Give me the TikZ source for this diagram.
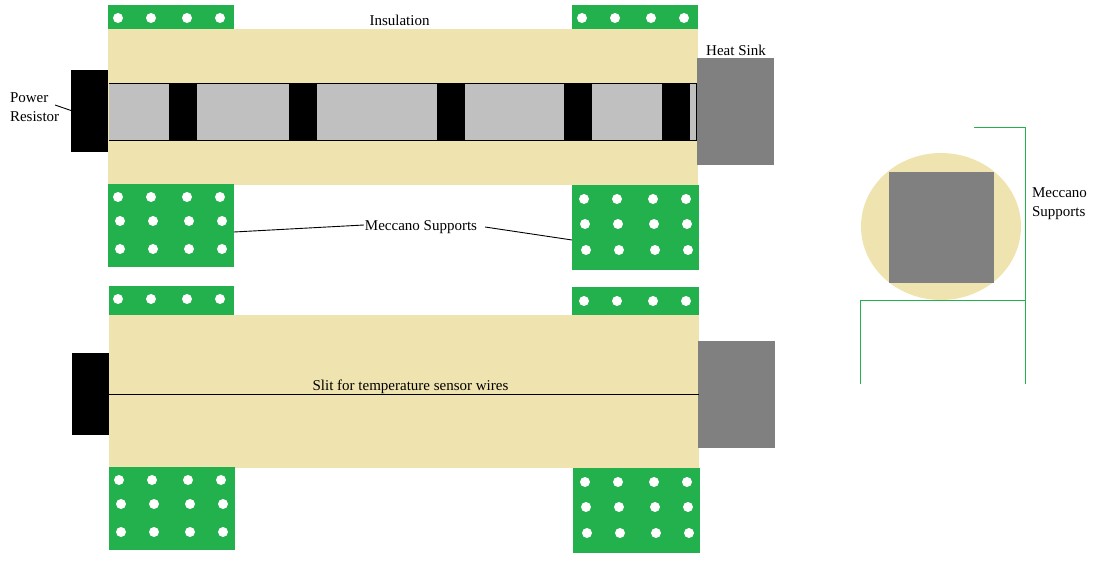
\documentclass[tikz,border=0pt]{standalone}
\usepackage{fontspec}
\setmainfont{Liberation Serif}
\usetikzlibrary{shapes.geometric}
\definecolor{mgreen}{HTML}{22B14C}
\definecolor{mtan}{HTML}{EFE4B0}
\definecolor{mgrey}{HTML}{808080}
\definecolor{mlight}{HTML}{C0C0C0}
\newcommand{\holerow}[2]{\foreach \hx in {#2} \fill[white] (\hx,#1) circle[radius=5];}
\tikzset{
  block/.style={rectangle,inner sep=0pt,outer sep=0pt,anchor=north west},
  plate/.style={block,fill=mgreen},
  insul/.style={block,fill=mtan},
  sink/.style={block,fill=mgrey},
  resistor/.style={block,fill=black},
  label/.style={inner sep=0pt,outer sep=0pt,font=\fontsize{15}{19}\selectfont,align=left},
  leader/.style={black,line width=0.9pt},
  support/.style={mgreen,line width=1.2pt},
}
\begin{document}
\begin{tikzpicture}[x=1pt,y=-1pt]
\useasboundingbox (0,0) rectangle (1096,561);
% upper view
\node[insul,minimum width=590pt,minimum height=156pt] (insA) at (108,29) {};
\node[plate,minimum width=126pt,minimum height=24pt] (pA1) at (108,5) {};
\node[plate,minimum width=126pt,minimum height=24pt] (pA2) at (572,5) {};
\node[plate,minimum width=126pt,minimum height=83pt] (pA3) at (108,184) {};
\node[plate,minimum width=127pt,minimum height=85pt] (pA4) at (572,185) {};
\node[resistor,minimum width=37pt,minimum height=82pt] (resA) at (71,70) {};
\node[sink,minimum width=77pt,minimum height=107pt] (sinkA) at (697,58) {};
\node[block,fill=mlight,minimum width=587.5pt,minimum height=57pt] (core) at (109,83.5) {};
\foreach \bx in {169,289,437,564,662}
  \fill[black] (\bx,83.5) rectangle (\bx+28,140.5);
\draw[black,line width=1pt] (109,83.5) -- (696.5,83.5) -- (696.5,140.5) -- (109,140.5);
\holerow{18}{118,151,187,220}
\holerow{18}{582,615,651,684}
\holerow{197}{118,151,187,220}
\holerow{221}{120,153,189,222}
\holerow{249}{120,153,189,222}
\holerow{199}{584,617,653,686}
\holerow{224}{585,618,654,687}
\holerow{250}{586,619,655,688}
% lower view
\node[insul,minimum width=590pt,minimum height=153pt] (insB) at (109,315) {};
\node[plate,minimum width=125pt,minimum height=29pt] (pB1) at (109,286) {};
\node[plate,minimum width=127pt,minimum height=28pt] (pB2) at (572,287) {};
\node[plate,minimum width=126pt,minimum height=83pt] (pB3) at (109,467) {};
\node[plate,minimum width=127pt,minimum height=85pt] (pB4) at (573,468) {};
\node[resistor,minimum width=37pt,minimum height=82pt] (resB) at (72,353) {};
\node[sink,minimum width=77pt,minimum height=107pt] (sinkB) at (698,341) {};
\coordinate (slitL) at (109,394.5);
\coordinate (slitR) at (699,394.5);
\draw[black,line width=1pt] (slitL) -- (slitR);
\holerow{299}{118,151,187,220}
\holerow{301}{584,617,653,686}
\holerow{480}{119,152,188,221}
\holerow{504}{121,154,190,223}
\holerow{532}{121,154,190,223}
\holerow{482}{585,618,654,687}
\holerow{507}{586,619,655,688}
\holerow{533}{587,620,656,689}
% end view
\node[ellipse,fill=mtan,inner sep=0pt,outer sep=0pt,minimum width=160pt,minimum height=147pt] (round) at (941,226.5) {};
\node[sink,minimum width=105pt,minimum height=111pt] (square) at (889,172) {};
\coordinate (s1) at (974,127.5);
\coordinate (s2) at (1025.5,127.5);
\coordinate (s3) at (1025.5,384);
\coordinate (s4) at (1025.5,300.5);
\coordinate (s5) at (860.5,300.5);
\coordinate (s6) at (860.5,384);
\draw[support] (s1) -- (s2) -- (s3);
\draw[support] (s4) -- (s5) -- (s6);
% labels
\node[label] (lInsul) at (399.5,20) {Insulation};
\node[label] (lSink) at (736,50) {Heat Sink};
\node[label,anchor=west] (lPower) at (10,107.5) {Power\\Resistor};
\node[label] (lMecc) at (421,227.5) {Meccano Supports};
\node[label,anchor=west] (lMeccR) at (1032,203.5) {Meccano\\Supports};
\node[label] (lSlit) at (410.5,387) {Slit for temperature sensor wires};
% leaders
\coordinate (aRes) at (71,110.5);
\coordinate (aPwr) at (55,105);
\coordinate (aP3) at (234,232);
\coordinate (aP4) at (572,240);
\draw[leader] (aPwr) -- (aRes);
\draw[leader] (aP3) -- ([xshift=-1pt,yshift=2.5pt]lMecc.west);
\draw[leader] ([xshift=8pt,yshift=0.5pt]lMecc.east) -- (aP4);
\end{tikzpicture}
\end{document}
